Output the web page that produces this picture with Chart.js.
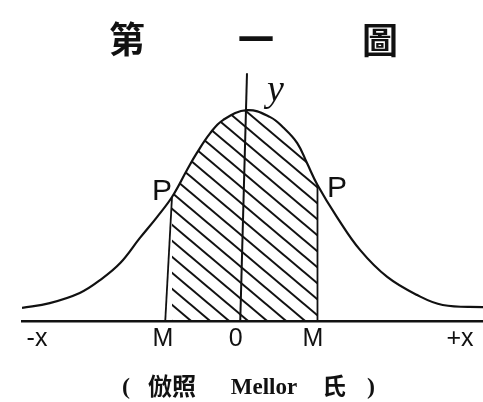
<!DOCTYPE html>
<html>
<head>
<meta charset="utf-8">
<script src="https://cdn.jsdelivr.net/npm/chart.js@4"></script>
<style>
  html, body { margin: 0; padding: 0; background: #fff; }
  #wrap { width: 483px; height: 402px; }
</style>
</head>
<body>
<div id="wrap"><canvas id="curva" width="483" height="402"></canvas></div>
<script>
// curve, x in units of M, y relative to the peak
const curveX = [-3.0, -2.63, -2.23, -1.96, -1.69, -1.43, -1.2, -1.0, -0.8, -0.67, -0.49, -0.32, 0, 0.31, 0.48, 0.67, 0.8, 0.94, 1.2, 1.51, 1.87, 2.27, 2.61, 3.15];
const curveY = [0.062, 0.085, 0.133, 0.194, 0.275, 0.393, 0.493, 0.588, 0.716, 0.796, 0.891, 0.953, 1.0, 0.967, 0.919, 0.844, 0.749, 0.645, 0.493, 0.336, 0.209, 0.123, 0.076, 0.066];

// shaded band between the two M ordinates
const mLeft = -1.0;
const mRight = 0.94;
const mLeftFoot = -1.09;

// the y ordinate (leans slightly)
const yAxisX = [-0.09, 0];
const yAxisY = [0, 1.175];

const tickValues = [-2.8, -1.12, -0.15, 0.88, 2.84];
const tickLabels = ["-x", "M", "0", "M", "+x"];

const ink = "#111";

function pts(xs, ys) {
  return xs.map((x, i) => ({ x: x, y: ys[i] }));
}

// diagonal hatch, lines running down to the right
function hatchPattern() {
  const w = 19, h = 16;
  const c = document.createElement("canvas");
  c.width = w; c.height = h;
  const g = c.getContext("2d");
  g.strokeStyle = ink;
  g.lineWidth = 2;
  [-h, 0, h].forEach((dy) => {
    g.beginPath();
    g.moveTo(-w, dy - h);
    g.lineTo(2 * w, dy + 2 * h);
    g.stroke();
  });
  return g.createPattern(c, "repeat");
}

const bandX = curveX.filter((x) => x >= mLeft && x <= mRight);
const bandY = bandX.map((x) => curveY[curveX.indexOf(x)]);
const topLeft = curveY[curveX.indexOf(mLeft)];
const topRight = curveY[curveX.indexOf(mRight)];

// title, letters and caption
const textPlugin = {
  id: "texte",
  afterDraw(chart) {
    const ctx = chart.ctx;
    ctx.save();
    ctx.fillStyle = ink;
    ctx.textBaseline = "middle";
    ctx.textAlign = "center";
    ctx.font = '700 36px "Noto Sans CJK TC"';
    ctx.fillText("第", 127, 39);
    ctx.fillText("一", 256, 39);
    ctx.fillText("圖", 380, 40);

    ctx.textBaseline = "alphabetic";
    ctx.textAlign = "left";
    ctx.font = 'italic 38px "Liberation Serif"';
    ctx.fillText("y", 267, 101);
    ctx.font = '30px "Liberation Sans"';
    ctx.fillText("P", 152, 200);
    ctx.fillText("P", 327, 197);

    ctx.textAlign = "center";
    ctx.font = 'bold 24px "Liberation Serif"';
    ctx.fillText("(", 126, 394);
    ctx.fillText(")", 371, 394);
    ctx.font = '700 24px "Noto Sans CJK TC"';
    ctx.fillText("倣照", 172, 395);
    ctx.fillText("氏", 334, 395);
    ctx.font = 'bold 23px "Liberation Serif"';
    ctx.fillText("Mellor", 264, 394);
    ctx.restore();
  },
};

const ctx = document.getElementById("curva").getContext("2d");
const chart = new Chart(ctx, {
  type: "line",
  data: {
    datasets: [
      {
        data: pts(curveX, curveY),
        borderColor: ink,
        borderWidth: 2.2,
        tension: 0.4,
        pointRadius: 0,
        fill: false,
      },
      {
        data: pts(yAxisX, yAxisY),
        borderColor: ink,
        borderWidth: 2,
        pointRadius: 0,
        fill: false,
      },
      {
        data: pts([mLeftFoot, mLeft], [0, topLeft]),
        borderColor: ink,
        borderWidth: 1.8,
        pointRadius: 0,
        fill: false,
      },
      {
        data: pts([mRight, mRight], [0, topRight]),
        borderColor: ink,
        borderWidth: 1.8,
        pointRadius: 0,
        fill: false,
      },
      {
        data: pts(bandX, bandY),
        borderColor: "rgba(0,0,0,0)",
        borderWidth: 0,
        backgroundColor: hatchPattern(),
        tension: 0.4,
        pointRadius: 0,
        fill: "origin",
      },
    ],
  },
  options: {
    responsive: false,
    animation: false,
    layout: { padding: { left: 22, top: 68, right: 0, bottom: 0 } },
    plugins: {
      legend: { display: false },
      tooltip: { enabled: false },
    },
    scales: {
      x: {
        type: "linear",
        min: -3.0,
        max: 3.147,
        grid: { display: false, drawTicks: false },
        border: { display: true, color: ink, width: 2.4 },
        afterFit(scale) {
          scale.height = 81;
        },
        afterBuildTicks(scale) {
          scale.ticks = tickValues.map((v) => ({ value: v }));
        },
        ticks: {
          autoSkip: false,
          maxRotation: 0,
          padding: 3,
          color: ink,
          font: { family: "Liberation Sans", size: 25 },
          callback: (v, i) => tickLabels[i],
        },
      },
      y: {
        display: false,
        min: 0,
        max: 1.2,
      },
    },
  },
  plugins: [textPlugin],
});
</script>
</body>
</html>
